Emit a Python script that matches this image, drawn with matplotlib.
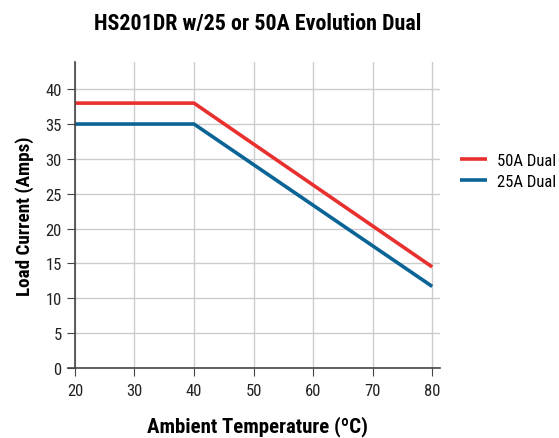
import matplotlib.pyplot as plt

plt.rcParams['font.family'] = ['Roboto Condensed', 'Archivo Narrow', 'Roboto', 'DejaVu Sans']

temp_50 = [20, 40, 80]
amps_50 = [38, 38, 14.5]
temp_25 = [20, 40, 80]
amps_25 = [35, 35, 11.7]
xticks = [20, 30, 40, 50, 60, 70, 80]
yticks = [0, 5, 10, 15, 20, 25, 30, 35, 40]

fig = plt.figure(figsize=(5.59, 4.39), dpi=100)
ax = fig.add_axes([0.134, 0.1595, 0.653, 0.697])

ax.plot(temp_50, amps_50, color='#e8302f', lw=2.6, label='50A Dual', solid_capstyle='butt')
ax.plot(temp_25, amps_25, color='#0b6496', lw=2.6, label='25A Dual', solid_capstyle='butt')

ax.set_xlim(20, 81.3)
ax.set_ylim(0, 43.9)
ax.set_xticks(xticks)
ax.set_yticks(yticks)
ax.grid(True, color='#cccccc', lw=1)
ax.set_axisbelow(True)
for s in ['top', 'right']:
    ax.spines[s].set_visible(False)
for s in ['left', 'bottom']:
    ax.spines[s].set_color('#444444')
    ax.spines[s].set_linewidth(1.2)
ax.spines['bottom'].set_bounds(18.8, 81.3)
ax.tick_params(length=6, color='#444444', labelsize=12, labelcolor='#222222')
ax.tick_params(axis='x', pad=5)

ax.set_title('HS201DR w/25 or 50A Evolution Dual', fontsize=15.8, fontweight='bold', pad=24)
ax.set_xlabel('Ambient Temperature (ºC)', fontsize=15, fontweight='bold', labelpad=12)
ax.set_ylabel('Load Current (Amps)', fontsize=13.8, fontweight='bold', labelpad=8)

ax.legend(loc='upper left', bbox_to_anchor=(1.015, 0.752), frameon=False, fontsize=12,
          handlelength=1.6, handletextpad=0.6, labelspacing=0.35)

fig.savefig('out.png', dpi=100)
